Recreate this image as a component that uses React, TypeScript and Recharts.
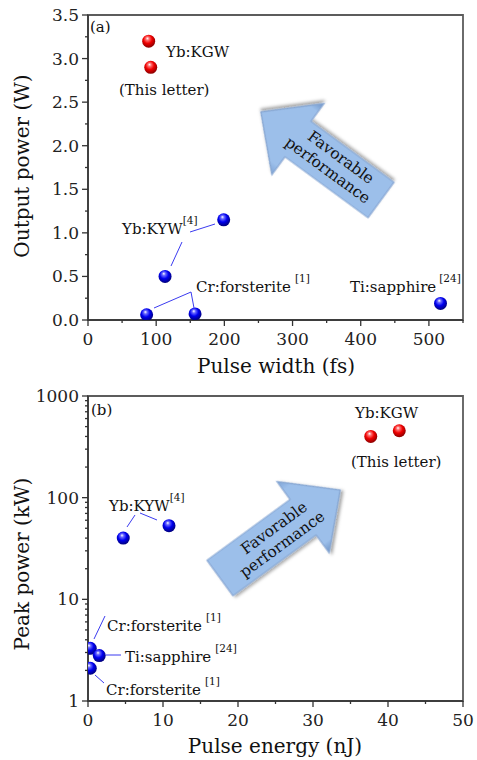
import React from 'react';
import { ScatterChart, Scatter, XAxis, YAxis, ReferenceArea } from 'recharts';

const FONT = '"DejaVu Serif", serif';

// (a) output power (W) vs pulse width (fs)
const kgwWidth = [89, 92];
const kgwPower = [3.2, 2.9];
const refWidth = [199, 113, 86, 157, 517];
const refPower = [1.15, 0.5, 0.06, 0.07, 0.19];

// (b) peak power (kW) vs pulse energy (nJ)
const kgwEnergy = [37.7, 41.5];
const kgwPeak = [400, 455];
const refEnergy = [4.7, 10.8, 0.3, 1.5, 0.3];
const refPeak = [40, 53, 3.3, 2.8, 2.1];

const widthTicks = [0, 50, 100, 150, 200, 250, 300, 350, 400, 450, 500, 550];
const powerTicks = [0, 0.25, 0.5, 0.75, 1, 1.25, 1.5, 1.75, 2, 2.25, 2.5, 2.75, 3, 3.25, 3.5];
const energyTicks = [0, 5, 10, 15, 20, 25, 30, 35, 40, 45, 50];
const peakTicks = [
  1, 2, 3, 4, 5, 6, 7, 8, 9,
  10, 20, 30, 40, 50, 60, 70, 80, 90,
  100, 200, 300, 400, 500, 600, 700, 800, 900,
  1000,
];

const toPoints = (xs: number[], ys: number[]) => xs.map((x, i) => ({ x, y: ys[i] }));

const AXIS = '#333';
const FRAME = '#5c5c5c';

const xTick = (isMajor: (v: number) => boolean, fmt: (v: number) => string) => (props: any) => {
  const { x, y, payload } = props;
  const major = isMajor(payload.value);
  return (
    <g>
      <line x1={x} x2={x} y1={y} y2={y + (major ? 6 : 3)} stroke={AXIS} strokeWidth={1.3} />
      {major && (
        <text x={x} y={y + 25} textAnchor="middle" fontFamily={FONT} fontSize={17} fill="#222">
          {fmt(payload.value)}
        </text>
      )}
    </g>
  );
};

const yTick = (isMajor: (v: number) => boolean, fmt: (v: number) => string) => (props: any) => {
  const { x, y, payload } = props;
  const major = isMajor(payload.value);
  return (
    <g>
      <line x1={x - (major ? 6 : 3)} x2={x} y1={y} y2={y} stroke={AXIS} strokeWidth={1.3} />
      {major && (
        <text x={x - 9} y={y + 6} textAnchor="end" fontFamily={FONT} fontSize={17} fill="#222">
          {fmt(payload.value)}
        </text>
      )}
    </g>
  );
};

const ball = (id: string) => (props: any) => (
  <circle cx={props.cx} cy={props.cy} r={6.5} fill={`url(#${id})`} />
);

const BlockArrow = ({ x, y, angle }: { x: number; y: number; angle: number }) => (
  <g transform={`translate(${x},${y}) rotate(${angle})`}>
    <path
      d="M0,-22 L103,-22 L103,-44 L149,0 L103,44 L103,22 L0,22 Z"
      fill="url(#arrowFill)"
      stroke="#86a6d2"
      strokeWidth={1.2}
      filter="url(#arrowShadow)"
    />
  </g>
);

const ArrowText = ({ x, y, angle }: { x: number; y: number; angle: number }) => (
  <g transform={`translate(${x},${y}) rotate(${angle})`} fontFamily={FONT} fontSize={15.5} fill="#111">
    <text x={3} y={-4} textAnchor="middle">Favorable</text>
    <text x={0} y={14} textAnchor="middle">performance</text>
  </g>
);

const Label = ({ x, y, text, sup, gap = 0 }: { x: number; y: number; text: string; sup?: string; gap?: number }) => (
  <text x={x} y={y} fontFamily={FONT} fill="#111" fontSize={15}>
    {text}
    {sup && (
      <tspan dx={gap} dy={-10} fontSize={10.5}>{sup}</tspan>
    )}
  </text>
);

const leader = { stroke: '#3b3bf0', strokeWidth: 1 };

export default function App() {
  return (
    <div style={{ position: 'absolute', left: 0, top: 0, width: 477, height: 760, background: '#fff' }}>
      <svg width={0} height={0} style={{ position: 'absolute' }}>
        <defs>
          <radialGradient id="ballRed" cx="45%" cy="40%" r="60%" fx="40%" fy="28%">
            <stop offset="0%" stopColor="#ffffff" />
            <stop offset="22%" stopColor="#ff7070" />
            <stop offset="55%" stopColor="#f00000" />
            <stop offset="100%" stopColor="#8a0000" />
          </radialGradient>
          <radialGradient id="ballBlue" cx="45%" cy="40%" r="60%" fx="40%" fy="28%">
            <stop offset="0%" stopColor="#ffffff" />
            <stop offset="22%" stopColor="#6a6aff" />
            <stop offset="55%" stopColor="#0000f0" />
            <stop offset="100%" stopColor="#00007a" />
          </radialGradient>
          <linearGradient id="arrowFill" x1="0" y1="0" x2="0" y2="1">
            <stop offset="0%" stopColor="#7da3d6" />
            <stop offset="12%" stopColor="#9cbfea" />
            <stop offset="88%" stopColor="#9cbfea" />
            <stop offset="100%" stopColor="#6c92c6" />
          </linearGradient>
          <filter id="arrowShadow" x="-20%" y="-20%" width="140%" height="140%">
            <feDropShadow dx="1.5" dy="2.5" stdDeviation="1.8" floodColor="#000" floodOpacity="0.35" />
          </filter>
        </defs>
      </svg>

      <div style={{ position: 'absolute', left: 0, top: 0 }}>
        <ScatterChart width={477} height={380} margin={{ top: 15, right: 14, bottom: 0, left: 0 }}>
          <ReferenceArea x1={0} x2={550} y1={0} y2={3.5} fill="none" stroke={FRAME} strokeWidth={1.8} />
          <XAxis
            type="number"
            dataKey="x"
            domain={[0, 550]}
            ticks={widthTicks}
            interval={0}
            allowDataOverflow
            height={60}
            tickSize={0}
            tickMargin={0}
            tickLine={false}
            axisLine={{ stroke: AXIS, strokeWidth: 1.5 }}
            tick={xTick((v) => v % 100 === 0, (v) => String(v))}
          />
          <YAxis
            type="number"
            dataKey="y"
            domain={[0, 3.5]}
            ticks={powerTicks}
            interval={0}
            allowDataOverflow
            width={88}
            tickSize={0}
            tickMargin={0}
            tickLine={false}
            axisLine={{ stroke: AXIS, strokeWidth: 1.5 }}
            tick={yTick((v) => Math.abs(v * 2 - Math.round(v * 2)) < 1e-6, (v) => v.toFixed(1))}
          />
          <Scatter data={toPoints(refWidth, refPower)} shape={ball('ballBlue')} isAnimationActive={false} />
          <Scatter data={toPoints(kgwWidth, kgwPower)} shape={ball('ballRed')} isAnimationActive={false} />
        </ScatterChart>
      </div>

      <div style={{ position: 'absolute', left: 0, top: 380 }}>
        <ScatterChart width={477} height={380} margin={{ top: 16, right: 14, bottom: 0, left: 0 }}>
          <ReferenceArea x1={0} x2={50} y1={1} y2={1000} fill="none" stroke={FRAME} strokeWidth={1.8} />
          <XAxis
            type="number"
            dataKey="x"
            domain={[0, 50]}
            ticks={energyTicks}
            interval={0}
            allowDataOverflow
            height={59}
            tickSize={0}
            tickMargin={0}
            tickLine={false}
            axisLine={{ stroke: AXIS, strokeWidth: 1.5 }}
            tick={xTick((v) => v % 10 === 0, (v) => String(v))}
          />
          <YAxis
            type="number"
            dataKey="y"
            scale="log"
            domain={[1, 1000]}
            ticks={peakTicks}
            interval={0}
            allowDataOverflow
            width={88}
            tickSize={0}
            tickMargin={0}
            tickLine={false}
            axisLine={{ stroke: AXIS, strokeWidth: 1.5 }}
            tick={yTick((v) => [1, 10, 100, 1000].includes(v), (v) => String(v))}
          />
          <Scatter data={toPoints(refEnergy, refPeak)} shape={ball('ballBlue')} isAnimationActive={false} />
          <Scatter data={toPoints(kgwEnergy, kgwPeak)} shape={ball('ballRed')} isAnimationActive={false} />
        </ScatterChart>
      </div>

      <svg
        width={477}
        height={760}
        style={{ position: 'absolute', left: 0, top: 0, pointerEvents: 'none' }}
      >
        {/* axis titles */}
        <g fontFamily={FONT} fontSize={20} fill="#111">
          <text transform="translate(29,166) rotate(-90)" textAnchor="middle">Output power (W)</text>
          <text x={276} y={373} textAnchor="middle">Pulse width (fs)</text>
          <text transform="translate(29,564) rotate(-90)" textAnchor="middle">Peak power (kW)</text>
          <text x={275} y={753} textAnchor="middle">Pulse energy (nJ)</text>
        </g>

        {/* panel (a) */}
        <text x={90} y={32} fontFamily={FONT} fontSize={15} fill="#111">(a)</text>
        <Label x={166} y={57} text="Yb:KGW" />
        <Label x={119} y={95} text="(This letter)" />
        <Label x={122} y={234} text="Yb:KYW" sup="[4]" />
        <line x1={190} y1={232} x2={215} y2={224} {...leader} />
        <line x1={182} y1={242} x2={171} y2={266} {...leader} />
        <Label x={196} y={292} text="Cr:forsterite" sup="[1]" gap={4} />
        <polyline points="154,308 191,292 194,308" fill="none" {...leader} />
        <Label x={350} y={292} text="Ti:sapphire" sup="[24]" gap={3} />
        <BlockArrow x={381} y={200} angle={216.25} />
        <ArrowText x={333} y={163} angle={36.25} />

        {/* panel (b) */}
        <text x={91} y={415} fontFamily={FONT} fontSize={15} fill="#111">(b)</text>
        <Label x={355} y={418} text="Yb:KGW" />
        <Label x={351} y={467} text="(This letter)" />
        <Label x={109} y={511} text="Yb:KYW" sup="[4]" />
        <line x1={135} y1={515} x2={127} y2={527} {...leader} />
        <line x1={140} y1={513} x2={157} y2={520} {...leader} />
        <Label x={107} y={631} text="Cr:forsterite" sup="[1]" gap={4} />
        <line x1={105} y1={616} x2={94} y2={639} {...leader} />
        <Label x={125} y={662} text="Ti:sapphire" sup="[24]" gap={4} />
        <line x1={106} y1={655} x2={121} y2={655} {...leader} />
        <Label x={106} y={695} text="Cr:forsterite" sup="[1]" gap={4} />
        <line x1={95} y1={675} x2={104} y2={683} {...leader} />
        <BlockArrow x={220} y={578} angle={-36.2} />
        <ArrowText x={277} y={537} angle={-36.2} />
      </svg>
    </div>
  );
}
